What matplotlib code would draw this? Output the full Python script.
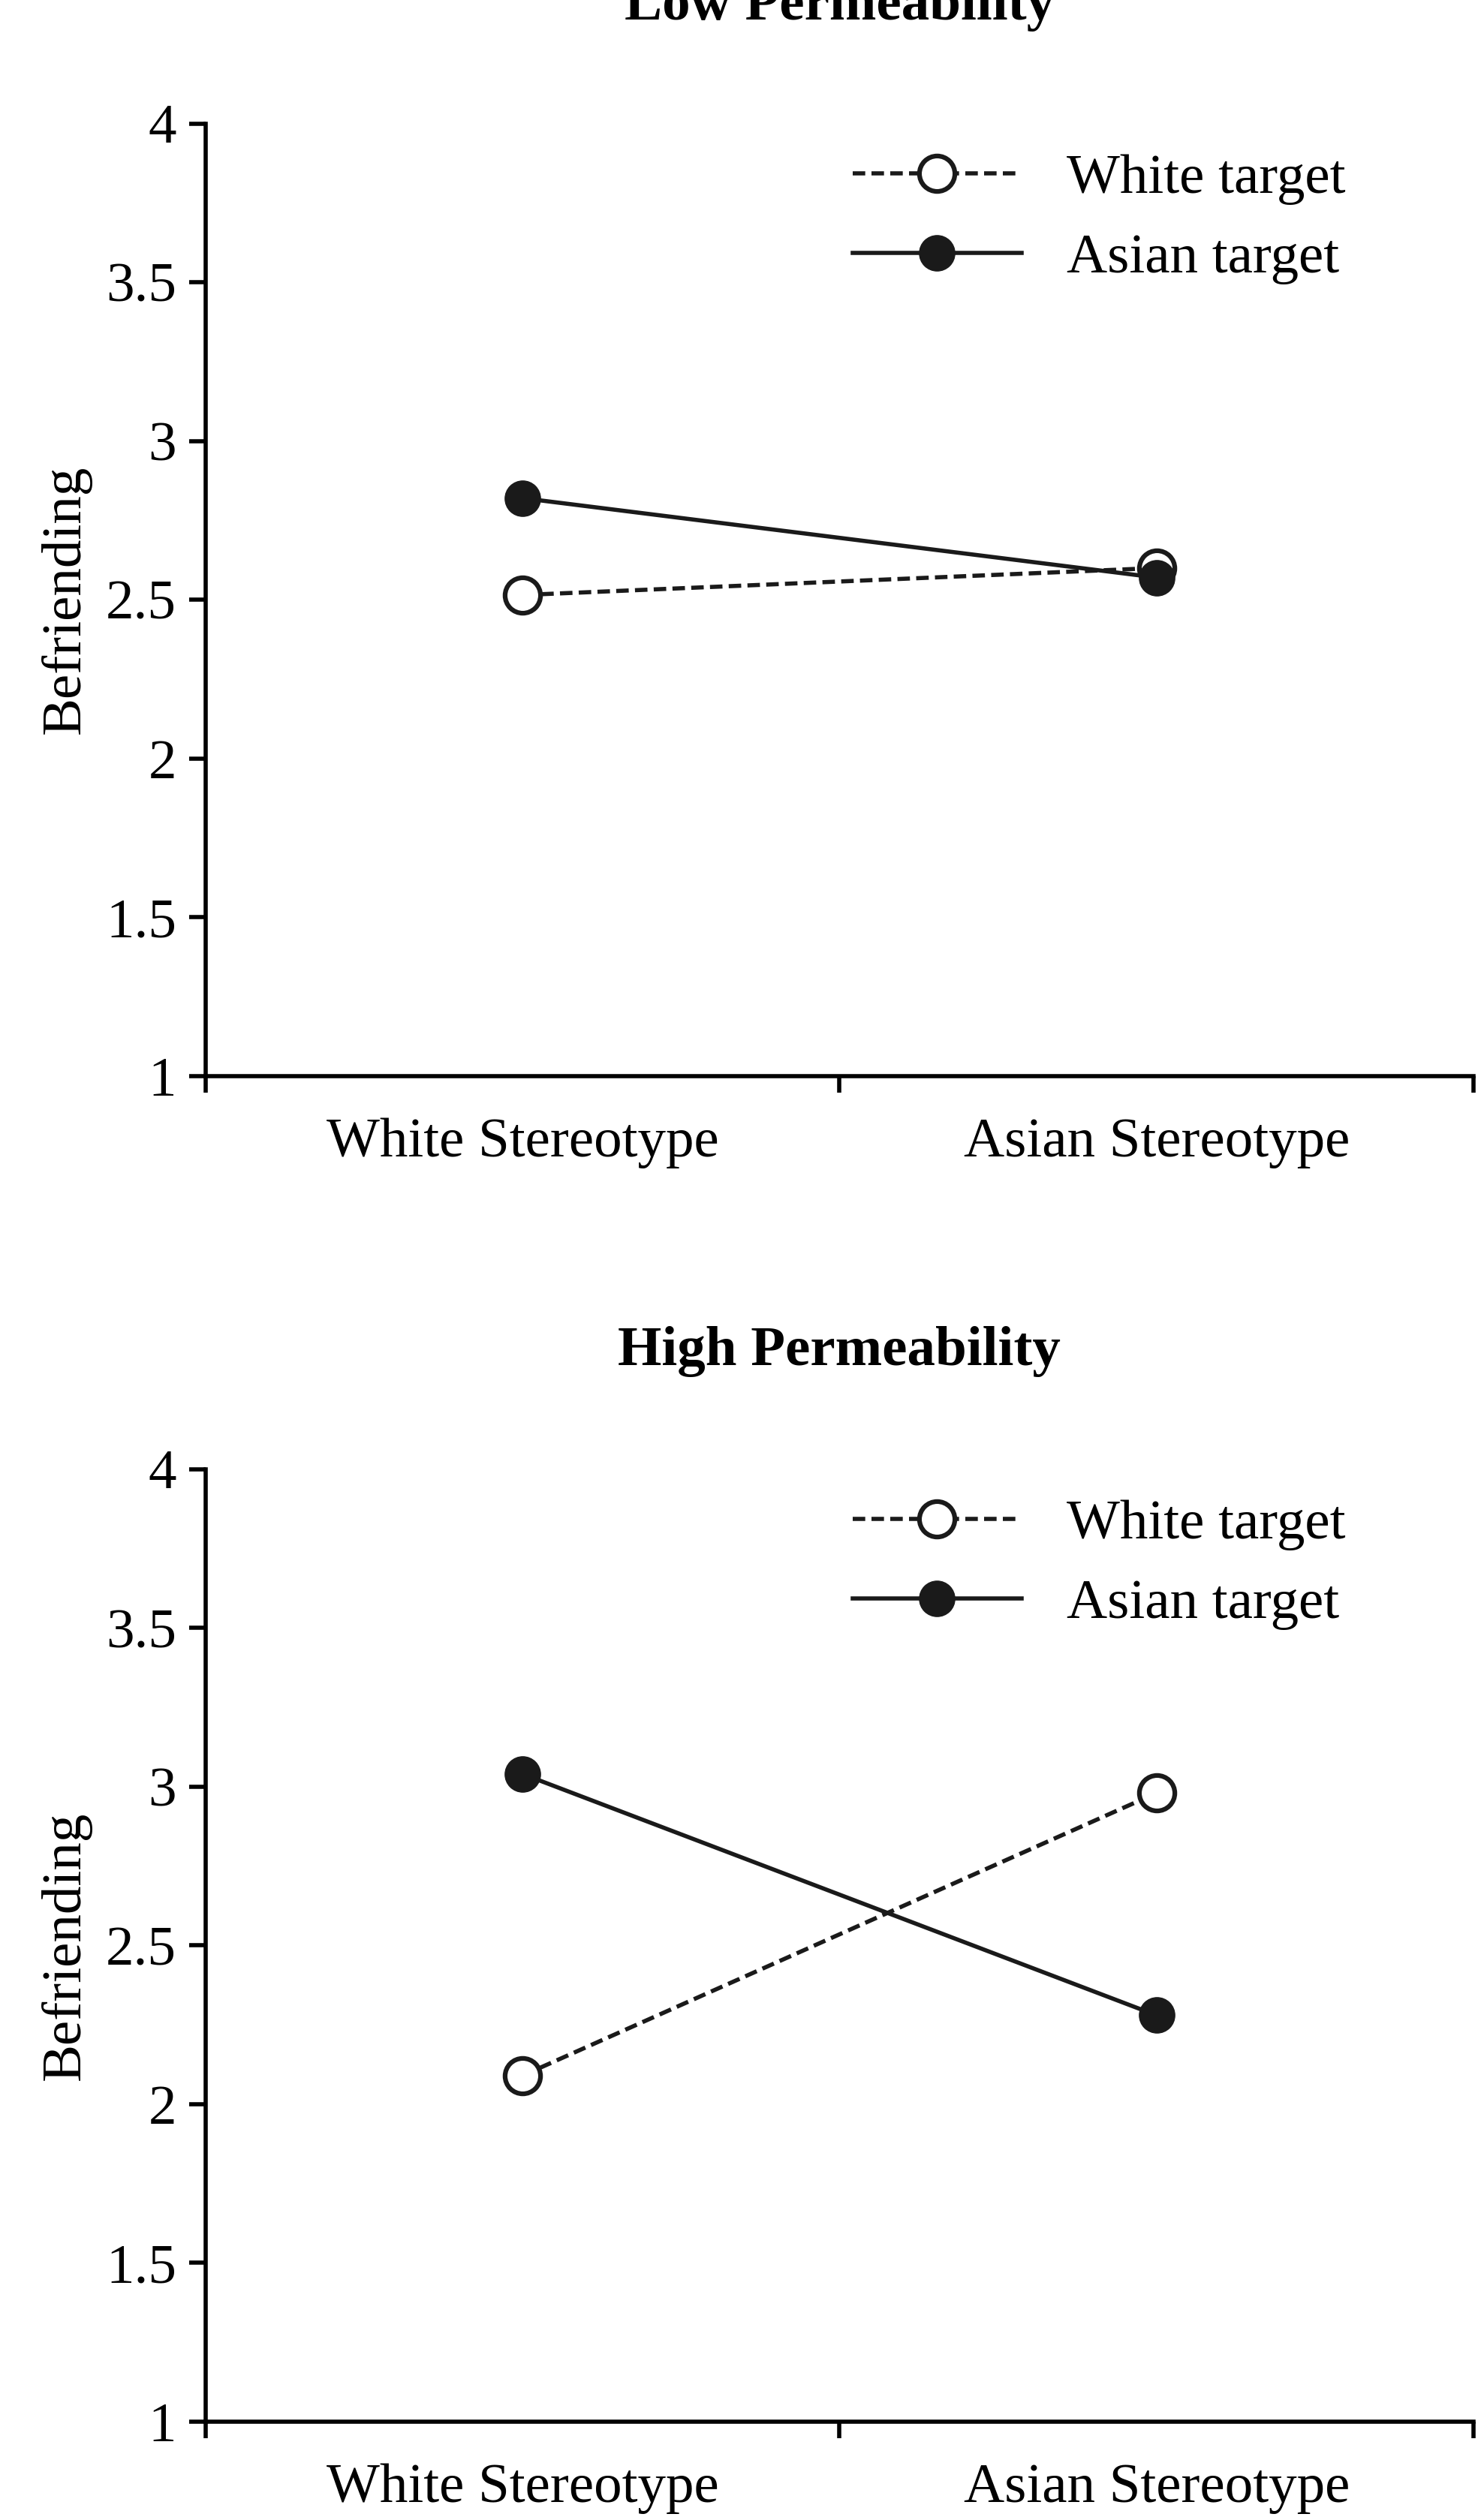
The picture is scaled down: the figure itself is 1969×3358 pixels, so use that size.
import matplotlib.pyplot as plt

plt.rcParams['font.family'] = ['Liberation Serif', 'DejaVu Serif']

categories = ['White Stereotype', 'Asian Stereotype']
panels = ['Low Permeability', 'High Permeability']
white_target = [[2.515, 2.60], [2.09, 2.98]]
asian_target = [[2.82, 2.57], [3.04, 2.28]]
yticks = [1, 1.5, 2, 2.5, 3, 3.5, 4]
ytick_labels = ['1', '1.5', '2', '2.5', '3', '3.5', '4']

fig = plt.figure(figsize=(19.69, 33.58), dpi=100)
boxes = [[0.139, 0.573, 0.858, 0.378], [0.139, 0.039, 0.858, 0.378]]
xpos = [0.5, 1.5]
fs = 54

for k in range(2):
    ax = fig.add_axes(boxes[k])
    ax.plot(xpos, white_target[k], linestyle=(0, (3, 1.5)), color='#1a1a1a', lw=4,
            marker='o', ms=34, mfc='white', mec='#1a1a1a', mew=4.5, label='White target')
    ax.plot(xpos, asian_target[k], linestyle='-', color='#1a1a1a', lw=4,
            marker='o', ms=34, mfc='#1a1a1a', mec='#1a1a1a', label='Asian target')
    ax.set_xlim(0, 2)
    ax.set_ylim(1, 4)
    ax.set_xticks([0, 1, 2])
    ax.set_xticklabels([])
    ax.set_xticks(xpos, minor=True)
    ax.set_xticklabels(categories, minor=True, fontsize=fs)
    ax.tick_params(axis='x', which='minor', length=0, pad=40)
    ax.tick_params(axis='x', which='major', length=16, width=4, direction='out')
    ax.set_yticks(yticks)
    ax.set_yticklabels(ytick_labels, fontsize=fs)
    ax.tick_params(axis='y', length=16, width=4, direction='out', pad=12)
    for s in ['top', 'right']:
        ax.spines[s].set_visible(False)
    for s in ['left', 'bottom']:
        ax.spines[s].set_linewidth(4)
    ax.set_ylabel('Befriending', fontsize=fs, labelpad=14)
    ax.set_title(panels[k], fontsize=fs, fontweight='bold', pad=100)
    ax.legend(loc='upper right', bbox_to_anchor=(0.93, 1.01), frameon=False, fontsize=fs,
              handlelength=3, labelspacing=0.5, borderaxespad=0.3)

fig.savefig('out.png', dpi=100)
